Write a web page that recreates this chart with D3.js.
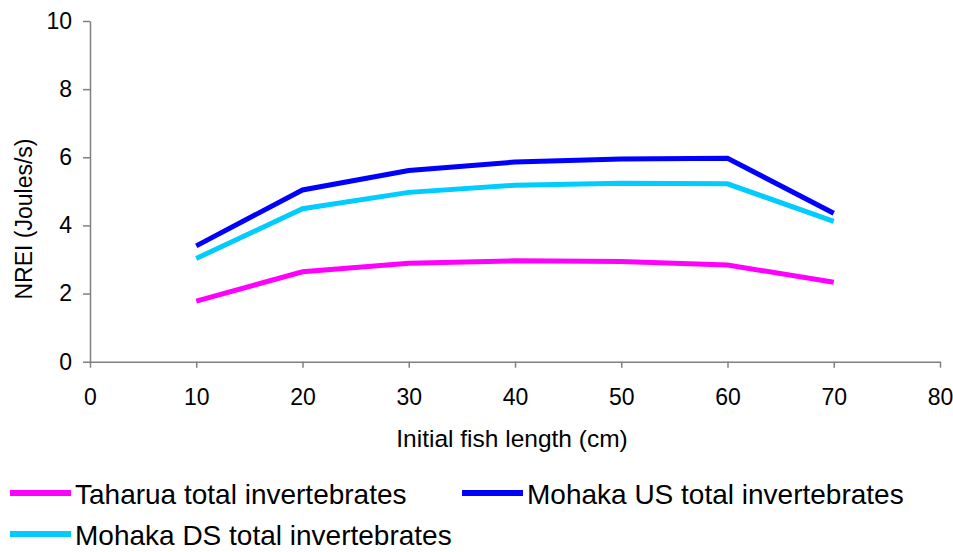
<!DOCTYPE html>
<html lang="en">
<head>
  <meta charset="UTF-8">
  <title>NREI by initial fish length</title>
  <script src="https://d3js.org/d3.v7.min.js"></script>
  <style>
    body { margin: 0; background: #fff; font-family: "Liberation Sans", Arial, sans-serif; }
    svg { display: block; }
  </style>
</head>
<body>
<div id="chart"></div>
<script>

// data
const lengths = [10, 20, 30, 40, 50, 60, 70];
const taharua = [1.78, 2.64, 2.89, 2.96, 2.94, 2.84, 2.33];
const mohakaUS = [3.40, 5.04, 5.61, 5.86, 5.95, 5.97, 4.36];
const mohakaDS = [3.03, 4.49, 4.97, 5.18, 5.24, 5.22, 4.12];
const seriesNames = ["Taharua total invertebrates", "Mohaka US total invertebrates", "Mohaka DS total invertebrates"];
const seriesColors = ["#ff00ff", "#0000ff", "#00ccff"];
const xTicks = [0, 10, 20, 30, 40, 50, 60, 70, 80];
const yTicks = [0, 2, 4, 6, 8, 10];

const width = 953;
const height = 552;

const svg = d3.select("#chart")
  .append("svg")
  .attr("width", width)
  .attr("height", height);

const x = d3.scaleLinear().domain([0, 80]).range([90, 940]);
const y = d3.scaleLinear().domain([0, 10]).range([361.7, 21]);

const axisColor = "#808080";

// x axis
const xAxis = svg.append("g")
  .attr("transform", `translate(0,${y(0)})`)
  .call(d3.axisBottom(x).tickValues(xTicks).tickSize(6).tickPadding(21).tickSizeOuter(0));
xAxis.select(".domain").attr("stroke", axisColor).attr("stroke-width", 1.5);
xAxis.selectAll(".tick line").attr("stroke", axisColor).attr("stroke-width", 1.5);
xAxis.selectAll("text")
  .attr("fill", "#000")
  .style("font-family", "Liberation Sans, Arial, sans-serif")
  .style("font-size", "23px");

// y axis
const yAxis = svg.append("g")
  .attr("transform", `translate(${x(0)},0)`)
  .call(d3.axisLeft(y).tickValues(yTicks).tickSize(7).tickPadding(11).tickSizeOuter(0));
yAxis.select(".domain").attr("stroke", axisColor).attr("stroke-width", 1.5);
yAxis.selectAll(".tick line").attr("stroke", axisColor).attr("stroke-width", 1.5);
yAxis.selectAll("text")
  .attr("fill", "#000")
  .style("font-family", "Liberation Sans, Arial, sans-serif")
  .style("font-size", "23px");

// axis titles
svg.append("text")
  .attr("x", 512)
  .attr("y", 447)
  .attr("text-anchor", "middle")
  .style("font-size", "24.5px")
  .text("Initial fish length (cm)");

svg.append("text")
  .attr("transform", `translate(32,${(135 + 303) / 2}) rotate(-90)`)
  .attr("text-anchor", "middle")
  .style("font-size", "23px")
  .text("NREI (Joules/s)");

// lines
const line = d3.line()
  .x((d, i) => x(lengths[i]))
  .y(d => y(d));

[taharua, mohakaUS, mohakaDS].forEach((vals, i) => {
  svg.append("path")
    .datum(vals)
    .attr("d", line)
    .attr("fill", "none")
    .attr("stroke", seriesColors[i])
    .attr("stroke-width", 5);
});

// legend
const legendPos = [[10, 493], [462, 493], [10, 534]];
seriesNames.forEach((name, i) => {
  const [lx, ly] = legendPos[i];
  svg.append("line")
    .attr("x1", lx).attr("x2", lx + 61)
    .attr("y1", ly).attr("y2", ly)
    .attr("stroke", seriesColors[i])
    .attr("stroke-width", 6);
  svg.append("text")
    .attr("x", lx + 65)
    .attr("y", ly + 11)
    .style("font-size", "28px")
    .text(name);
});

</script>
</body>
</html>
